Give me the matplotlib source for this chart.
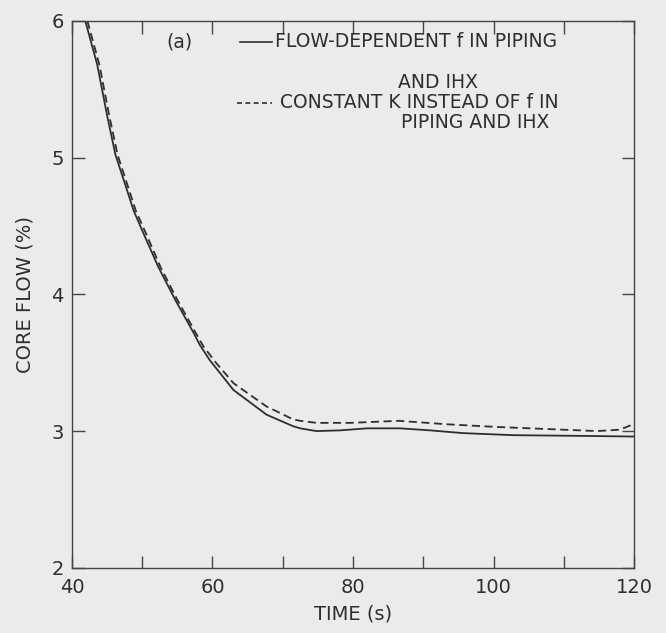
import matplotlib
matplotlib.use("Agg")
import matplotlib.pyplot as plt

# values
t_flow = [41.9, 43.6, 45.0, 46.2, 47.6, 48.8, 50.15, 52.3, 54.7, 57.3, 58.2,
          59.6, 63.0, 67.7, 71.5, 72.5, 74.8, 78.1, 82.0, 86.7, 91.0, 95.7,
          102.8, 112.3, 120.0]
core_flow = [6.00, 5.68, 5.31, 5.02, 4.80, 4.61, 4.45, 4.20, 3.96, 3.72, 3.63,
             3.52, 3.30, 3.12, 3.035, 3.02, 3.00, 3.005, 3.02, 3.02, 3.005,
             2.985, 2.97, 2.965, 2.96]

t_const = [42.2, 43.9, 45.3, 46.5, 47.9, 49.1, 50.5, 52.6, 55.0, 57.6, 58.7,
           60.5, 63.0, 67.7, 71.5, 72.5, 74.8, 77.2, 79.6, 86.5, 93.3, 100.5,
           107.6, 114.7, 118.0, 119.4, 120.0]
core_const = [6.00, 5.68, 5.31, 5.02, 4.80, 4.61, 4.45, 4.20, 3.96, 3.72, 3.62,
              3.50, 3.35, 3.18, 3.085, 3.075, 3.06, 3.06, 3.06, 3.075, 3.05,
              3.03, 3.015, 3.00, 3.01, 3.04, 3.045]

x_ticks = [40, 60, 80, 100, 120]
x_minor = [50, 70, 90, 110]
y_ticks = [2, 3, 4, 5, 6]

bg = "#ebebeb"
ink = "#2e2e2e"

fig = plt.figure(figsize=(6.66, 6.33), dpi=100, facecolor=bg)
ax = fig.add_axes([0.108, 0.103, 0.844, 0.864], facecolor=bg)

ax.plot(t_flow, core_flow, color=ink, lw=1.3)
ax.plot(t_const, core_const, color=ink, lw=1.3, dashes=(4.5, 2.5))

ax.set_xlim(40, 120)
ax.set_ylim(2, 6)
ax.set_xticks(x_ticks)
ax.set_xticks(x_minor, minor=True)
ax.set_yticks(y_ticks)
ax.tick_params(which="both", direction="in", top=True, right=True,
               length=9, width=1, color="#444444", labelsize=14,
               labelcolor=ink)
ax.tick_params(axis="x", pad=7)
ax.tick_params(axis="y", pad=6)
for s in ax.spines.values():
    s.set_color("#444444")
    s.set_linewidth(1)

ax.set_xlabel("TIME (s)", fontsize=14, color=ink, labelpad=6)
ax.set_ylabel("CORE FLOW (%)", fontsize=14, color=ink, labelpad=12)

# legend drawn by hand to keep the centred continuation lines
tr = ax.transAxes
fs = 13.5
ax.text(0.192, 0.962, "(a)", transform=tr, fontsize=fs, color=ink,
        ha="center", va="center")
ax.plot([0.299, 0.356], [0.962, 0.962], transform=tr, color=ink, lw=1.2)
ax.text(0.361, 0.962, "FLOW-DEPENDENT f IN PIPING", transform=tr,
        fontsize=fs, color=ink, ha="left", va="center")
ax.text(0.651, 0.888, "AND IHX", transform=tr, fontsize=fs, color=ink,
        ha="center", va="center")
ax.plot([0.294, 0.356], [0.850, 0.850], transform=tr, color=ink, lw=1.2,
        dashes=(3, 2))
ax.text(0.370, 0.850, "CONSTANT K INSTEAD OF f IN", transform=tr,
        fontsize=fs, color=ink, ha="left", va="center")
ax.text(0.717, 0.815, "PIPING AND IHX", transform=tr, fontsize=fs,
        color=ink, ha="center", va="center")

fig.savefig("out.png", dpi=100, facecolor=bg)
